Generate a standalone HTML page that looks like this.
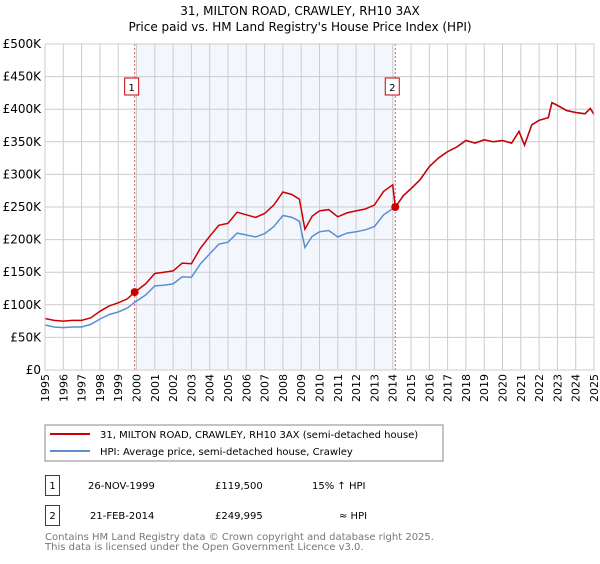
<!DOCTYPE html>
<html><head><meta charset="utf-8"><style>
body{margin:0;background:#fff;font-family:"DejaVu Sans","Liberation Sans",sans-serif;}
svg text{font-family:"DejaVu Sans","Liberation Sans",sans-serif;}
</style></head><body>
<svg id="chart" width="600" height="560" viewBox="0 0 600 560" xmlns="http://www.w3.org/2000/svg">
<text x="300" y="15" text-anchor="middle" font-size="12">31, MILTON ROAD, CRAWLEY, RH10 3AX</text>
<text x="300" y="31" text-anchor="middle" font-size="12">Price paid vs. HM Land Registry's House Price Index (HPI)</text>
<g id="plot"></g>
<rect x="45" y="425" width="398" height="36" fill="#fff" stroke="#888"/>
<line x1="50" y1="434" x2="90" y2="434" stroke="#cc0000" stroke-width="2"/>
<text x="100" y="438" font-size="10">31, MILTON ROAD, CRAWLEY, RH10 3AX (semi-detached house)</text>
<line x1="50" y1="451" x2="90" y2="451" stroke="#5b8fd1" stroke-width="2"/>
<text x="100" y="455" font-size="10">HPI: Average price, semi-detached house, Crawley</text>
<g font-size="10">
<rect x="45.5" y="475.5" width="14" height="20" fill="none" stroke="#cc0000"/>
<text x="52.5" y="489" text-anchor="middle">1</text>
<text x="88" y="489">26-NOV-1999</text>
<text x="215" y="489">£119,500</text>
<text x="312" y="489">15% ↑ HPI</text>
<rect x="45.5" y="505.5" width="14" height="20" fill="none" stroke="#cc0000"/>
<text x="52.5" y="519" text-anchor="middle">2</text>
<text x="90" y="519">21-FEB-2014</text>
<text x="215" y="519">£249,995</text>
<text x="339" y="519">≈ HPI</text>
</g>
<text x="45" y="540" font-size="10" fill="#777">Contains HM Land Registry data © Crown copyright and database right 2025.</text>
<text x="45" y="550" font-size="10" fill="#777">This data is licensed under the Open Government Licence v3.0.</text>
</svg>
<script>
const hpiYears=[1995,1995.5,1996,1996.5,1997,1997.5,1998,1998.5,1999,1999.5,1999.9,2000.5,2001,2001.5,2002,2002.5,2003,2003.5,2004,2004.5,2005,2005.5,2006,2006.5,2007,2007.5,2008,2008.5,2008.9,2009.2,2009.6,2010,2010.5,2011,2011.5,2012,2012.5,2013,2013.5,2014.14,2014.6,2015,2015.5,2016,2016.5,2017,2017.5,2018,2018.5,2019,2019.5,2020,2020.5,2020.9,2021.2,2021.6,2022,2022.5,2022.7,2023,2023.5,2024,2024.5,2024.8,2025];
const hpiValues=[69000,66000,65000,66000,66000,70000,78000,85000,89000,95000,104000,115000,129000,130000,132000,143000,142000,163000,178000,193000,196000,210000,207000,204000,209000,220000,237000,234000,228000,188000,205000,212000,214000,204000,210000,212000,215000,220000,238000,250000,268000,278000,292000,312000,325000,335000,342000,352000,348000,353000,350000,352000,348000,366000,345000,376000,383000,387000,410000,406000,398000,395000,393000,401000,392000];
const redYears=[1995,1995.5,1996,1996.5,1997,1997.5,1998,1998.5,1999,1999.5,1999.9,2000.5,2001,2001.5,2002,2002.5,2003,2003.5,2004,2004.5,2005,2005.5,2006,2006.5,2007,2007.5,2008,2008.5,2008.9,2009.2,2009.6,2010,2010.5,2011,2011.5,2012,2012.5,2013,2013.5,2014.0,2014.14];
const redValues=[79000,76000,75000,76000,76000,80000,90000,98000,103000,109000,119500,132000,148000,150000,152000,164000,163000,187000,205000,222000,225000,242000,238000,234000,240000,253000,273000,269000,262000,216000,236000,244000,246000,235000,241000,244000,247000,253000,274000,284000,249995];
const sales=[{n:"1",year:1999.9,value:119500},{n:"2",year:2014.14,value:249995}];
const yTicks=[0,50000,100000,150000,200000,250000,300000,350000,400000,450000,500000];
const yTickLabels=["£0","£50K","£100K","£150K","£200K","£250K","£300K","£350K","£400K","£450K","£500K"];
const xTicks=[1995,1996,1997,1998,1999,2000,2001,2002,2003,2004,2005,2006,2007,2008,2009,2010,2011,2012,2013,2014,2015,2016,2017,2018,2019,2020,2021,2022,2023,2024,2025];

const L=45,R=594,T=44,B=370;
const xs=y=>L+(y-1995)/(2025-1995)*(R-L);
const ys=v=>B-v/500000*(B-T);
const NS="http://www.w3.org/2000/svg";
const g=document.getElementById('plot');
function mk(tag,attrs){const e=document.createElementNS(NS,tag);for(const k in attrs)e.setAttribute(k,attrs[k]);g.appendChild(e);return e;}
const bg=mk('rect',{x:L,y:T,width:R-L,height:B-T,fill:'#fff'});


const sh=mk('rect',{x:xs(sales[0].year),y:T,width:xs(sales[1].year)-xs(sales[0].year),height:B-T,fill:'#eef3fc',opacity:0.7});


xTicks.forEach(t=>{
 const l=mk('line',{x1:xs(t),x2:xs(t),y1:T,y2:B,stroke:'#ccc','stroke-width':1});
 
 
 const tx=mk('text',{x:0,y:0,'font-size':11,'text-anchor':'end',transform:`translate(${xs(t)+4},${B+4}) rotate(-90)`});
 tx.textContent=t;
 
 
});
yTicks.forEach((t,i)=>{
 const l=mk('line',{x1:L,x2:R,y1:ys(t),y2:ys(t),stroke:'#ccc','stroke-width':1});
 
 
 const tx=mk('text',{x:41,y:ys(t)+4,'font-size':12,'text-anchor':'end'});
 tx.textContent=yTickLabels[i];
 
 
});
sales.forEach(s=>{
 const l=mk('line',{x1:xs(s.year),x2:xs(s.year),y1:T,y2:B,stroke:'#e06060','stroke-width':1,'stroke-dasharray':'2,2'});
 
 
});
function pts(xa,va){return xa.map((x,i)=>xs(x).toFixed(1)+','+ys(va[i]).toFixed(1)).join(' ');}
const hl=mk('polyline',{points:pts(hpiYears,hpiValues),fill:'none',stroke:'#5b8fd1','stroke-width':1.5});


const rx=redYears.concat(hpiYears.filter(y=>y>2014.14));
const rv=redValues.concat(hpiValues.filter((v,i)=>hpiYears[i]>2014.14));
const rl=mk('polyline',{points:pts(rx,rv),fill:'none',stroke:'#cc0000','stroke-width':1.5});


sales.forEach(s=>{
 const c=mk('circle',{cx:xs(s.year),cy:ys(s.value),r:4,fill:'#cc0000'});
 
 
 const b=mk('rect',{x:xs(s.year)-10,y:78,width:14,height:17,fill:'#fff',stroke:'#cc0000'});
 
 
 const t=mk('text',{x:xs(s.year)-3,y:91,'font-size':10,'text-anchor':'middle'});
 t.textContent=s.n;
 
 
});
const fr=mk('rect',{x:L,y:T,width:R-L,height:B-T,fill:'none',stroke:'#ccc'});


</script>
</body></html>
